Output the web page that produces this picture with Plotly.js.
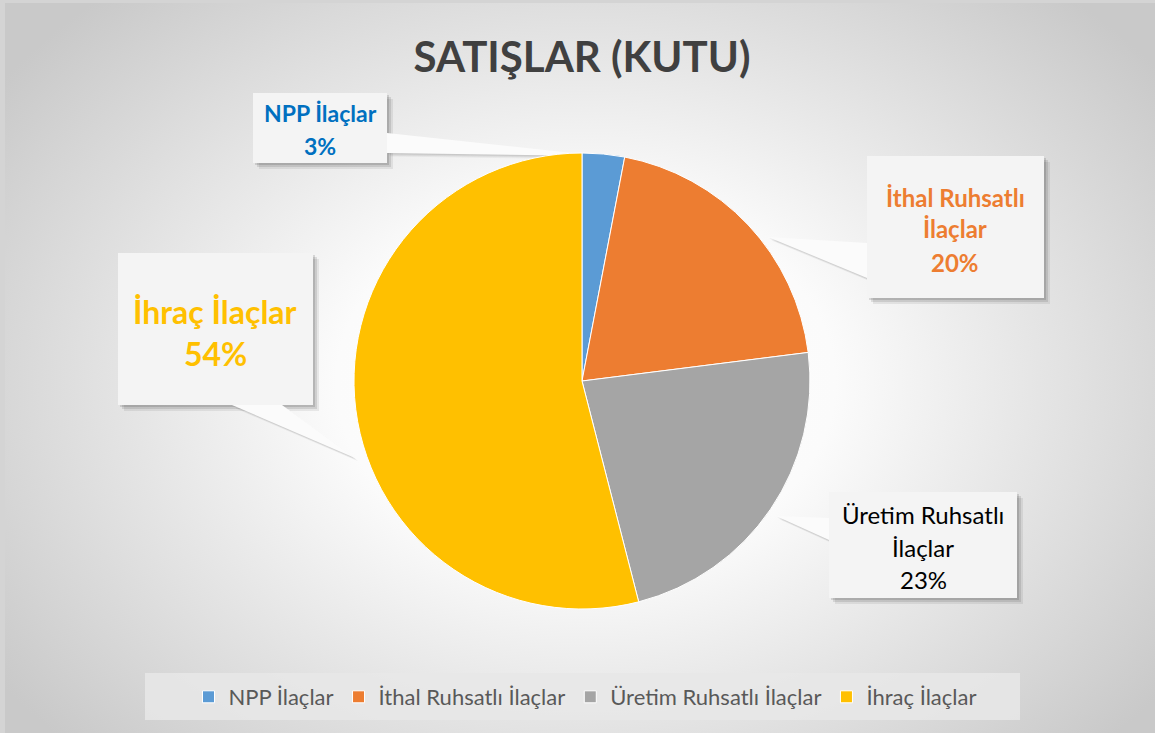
<!DOCTYPE html>
<html>
<head>
<meta charset="utf-8">
<script src="https://cdn.plot.ly/plotly-3.0.1.min.js"></script>
<style>
  html, body { margin:0; padding:0; background:#d4d4d4; }
  #bg { position:absolute; left:5px; top:3px; width:1150px; height:730px;
        background: radial-gradient(ellipse 62% 72% at 50.5% 52%, #ffffff 0%, #fbfbfb 35%, #c9c9c9 100%); }
  #chart { position:absolute; left:0; top:0; width:1155px; height:733px; }
</style>
</head>
<body>
<div id="bg"></div>
<div id="chart"></div>
<script>
// ---- data ----
const chartTitle = 'SATIŞLAR (KUTU)';
const categories = ['NPP İlaçlar', 'İthal Ruhsatlı İlaçlar', 'Üretim Ruhsatlı İlaçlar', 'İhraç İlaçlar'];
const values = [3, 20, 23, 54];
const sliceColors = ['#5B9BD5', '#ED7D31', '#A5A5A5', '#FFC000'];

// ---- layout helpers (pixel -> paper) ----
const W = 1155, H = 733;
const fx = p => p / W;
const fy = p => 1 - p / H;

// callout styling / placement (pixels)
const callouts = [
  { box:[253,93,387,163], cx:320, lines:[113,146], size:23, color:'#0070C0', weight:'bold', wrap:false,
    ptr:[[387,133],[387,153],[600,156]] },
  { box:[867,156,1044,298], cx:955, lines:[197,229,262], size:24, color:'#ED7D31', weight:'bold', wrap:true,
    ptr:[[867,243],[867,278],[768,237]] },
  { box:[829,492,1017,598], cx:923, lines:[514,547,579], size:24, color:'#000000', weight:'normal', wrap:true,
    ptr:[[829,518],[829,540],[776,516]] },
  { box:[118,253,313,405], cx:215, lines:[311,353], size:32, color:'#FFC000', weight:'bold', wrap:false,
    ptr:[[232,405],[282,405],[355,458]] }
];

const total = values.reduce((a,b)=>a+b,0);
const shapes = [];
const annotations = [];

// legend background
shapes.push({type:'rect', xref:'paper', yref:'paper', layer:'below',
  x0:fx(145), x1:fx(1020), y0:fy(720), y1:fy(673),
  fillcolor:'rgba(232,232,232,0.85)', line:{width:0}});

function pathFrom(pts, dx, dy) {
  return pts.map((p,i)=>(i?'L':'M')+fx(p[0]+dx)+','+fy(p[1]+dy)).join(' ')+' Z';
}

callouts.forEach((c, i) => {
  const [x0,y0,x1,y1] = c.box;
  // soft shadow
  [[6,0.07],[4,0.10],[2,0.12]].forEach(([o,a]) => {
    shapes.push({type:'rect', xref:'paper', yref:'paper', layer:'below',
      x0:fx(x0+o), x1:fx(x1+o), y0:fy(y1+o), y1:fy(y0+o),
      fillcolor:'rgba(0,0,0,'+a+')', line:{width:0}});
    shapes.push({type:'path', xref:'paper', yref:'paper', layer:'below',
      path:pathFrom(c.ptr, o*0.6, o*0.6), fillcolor:'rgba(0,0,0,'+(a*0.6)+')', line:{width:0}});
  });
  shapes.push({type:'path', xref:'paper', yref:'paper', layer:'below',
    path:pathFrom(c.ptr, 0, 0), fillcolor:'#fbfbfb', line:{width:0}});
  shapes.push({type:'rect', xref:'paper', yref:'paper', layer:'below',
    x0:fx(x0), x1:fx(x1), y0:fy(y1), y1:fy(y0),
    fillcolor:'#f4f4f4', line:{width:0}});

  const lab = categories[i];
  let parts;
  if (c.wrap) { const k = lab.lastIndexOf(' '); parts = [lab.slice(0,k), lab.slice(k+1)]; }
  else parts = [lab];
  parts.push(Math.round(values[i] / total * 100) + '%');
  parts.forEach((t, j) => {
    annotations.push({xref:'paper', yref:'paper', x:fx(c.cx), y:fy(c.lines[j]),
      xanchor:'center', yanchor:'middle', showarrow:false, text:t,
      font:{family:'Lato, sans-serif', size:c.size, color:c.color, weight:c.weight}});
  });
});

const data = [{
  type:'pie', labels:categories, values:values, sort:false, direction:'clockwise', rotation:0,
  marker:{colors:sliceColors, line:{color:'#ffffff', width:1}},
  textinfo:'none', hoverinfo:'none',
  domain:{x:[fx(354), fx(810)], y:[fy(609), fy(153)]}
}];

const layout = {
  width:W, height:H,
  margin:{l:0,r:0,t:0,b:0},
  paper_bgcolor:'rgba(0,0,0,0)', plot_bgcolor:'rgba(0,0,0,0)',
  title:{text:chartTitle, x:fx(582), xanchor:'center', y:fy(57), yanchor:'middle',
    font:{family:'Lato, sans-serif', size:42, color:'#404040', weight:'bold'}},
  showlegend:true,
  legend:{orientation:'h', x:fx(585), xanchor:'center', y:fy(697), yanchor:'middle',
    bgcolor:'rgba(0,0,0,0)', font:{family:'Lato, sans-serif', size:22, color:'#595959'}, traceorder:'normal'},
  shapes:shapes, annotations:annotations
};

Plotly.newPlot('chart', data, layout, {displayModeBar:false, staticPlot:true});
</script>
</body>
</html>
